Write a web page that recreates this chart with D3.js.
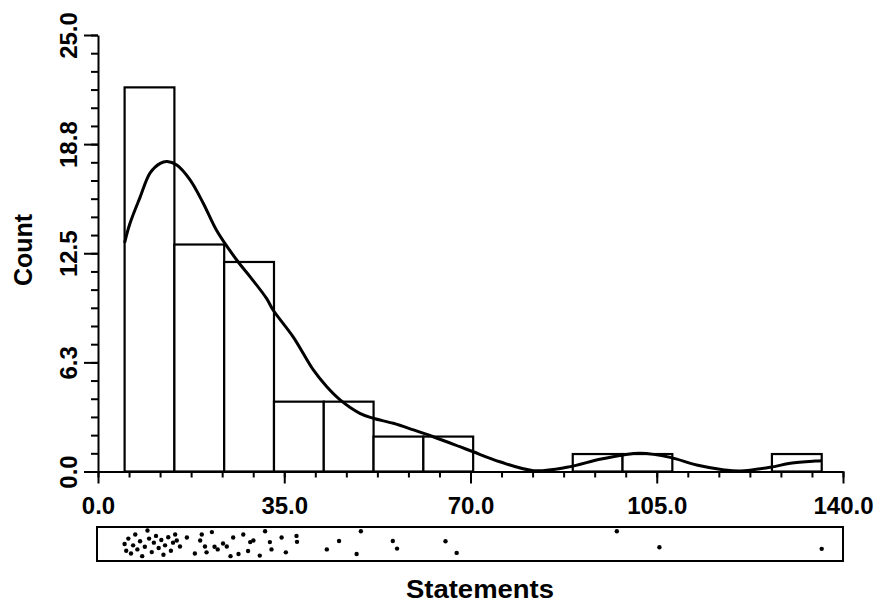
<!DOCTYPE html>
<html>
<head>
<meta charset="utf-8">
<script src="https://cdn.jsdelivr.net/npm/d3@7"></script>
<style>
  body { margin: 0; background: #fff; }
  svg { display: block; font-family: "Liberation Sans", Arial, sans-serif; }
</style>
</head>
<body>
<div id="container"></div>
<script>
const WIDTH = 875;
const HEIGHT = 606;

var statements = [
    5.0, 5.3, 5.7, 6.2, 6.6, 7.0, 7.4, 7.9, 8.3, 8.8, 9.3, 9.6, 10.1, 10.5, 10.9,
    11.4, 11.9, 12.3, 12.6, 13.2, 13.7, 14.1,
    14.5, 14.8, 15.4, 16.7, 18.2, 19.2, 19.5, 20.1, 20.4, 21.4, 21.9, 22.5, 23.5,
    24.2, 24.9, 25.4, 26.4, 27.3, 28.2, 28.6, 29.2, 30.4, 31.4, 32.3, 32.6,
    34.5, 35.3, 37.3, 37.4, 43.0, 45.3, 48.6, 49.4, 55.4, 56.2, 65.3, 67.4,
    97.5, 105.5, 136.0
];
// vertical jitter of each dot in the strip (0 = top, 1 = bottom)
var stripJitter = [
    0.5, 0.75, 0.3, 0.85, 0.55, 0.15, 0.7, 0.4, 0.95, 0.6, 0.0, 0.3, 0.8, 0.45, 0.2,
    0.65, 0.35, 0.9, 0.55, 0.25, 0.75, 0.45,
    0.15, 0.37, 0.59, 0.26, 0.85, 0.37, 0.15, 0.59, 0.81, 0.06, 0.6, 0.7, 0.48,
    0.59, 0.95, 0.26, 0.87, 0.15, 0.76, 0.43, 0.37, 0.93, 0.03, 0.43, 0.7,
    0.26, 0.81, 0.2, 0.42, 0.7, 0.39, 0.87, 0.03, 0.39, 0.67, 0.4, 0.83,
    0.03, 0.62, 0.68
];
var binCount = 14;

// density curve (scaled to counts)
var densityX = [5.0, 6.0, 7.9, 9.8, 11.7, 13.0, 14.8, 17.3, 19.8, 22.3, 26.1, 28.6, 31.7,
    32.9, 36.7, 40.5, 43.0, 45.5, 49.2, 51.7, 55.5, 59.3, 63.0, 68.0, 70.5, 75.5,
    81.8, 88.1, 94.3, 98.7, 101.9, 107.5, 112.5, 117.7, 120.7, 126.3, 130.1, 134.8, 136.0];
var densityY = [13.1, 14.2, 15.7, 17.1, 17.65, 17.75, 17.55, 16.7, 15.35, 13.8, 12.1, 11.15, 9.9,
    9.25, 7.7, 5.8, 4.85, 4.1, 3.33, 3.05, 2.76, 2.38, 1.99, 1.42, 1.13, 0.56,
    0.05, 0.24, 0.70, 0.95, 1.04, 0.81, 0.37, 0.09, 0.03, 0.24, 0.47, 0.60, 0.62];

var xTicks = [0, 35, 70, 105, 140];
var xTickLabels = ["0.0", "35.0", "70.0", "105.0", "140.0"];
var yTicks = [0, 6.25, 12.5, 18.75, 25];
var yTickLabels = ["0.0", "6.3", "12.5", "18.8", "25.0"];
var xTitle = "Statements";
var yTitle = "Count";

var XScale = d3.scaleLinear().domain([0, 140]).range([98, 843]);
var YScale = d3.scaleLinear().domain([0, 25]).range([471.5, 35]);
var JScale = d3.scaleLinear().domain([0, 1]).range([530.5, 557.5]);

var drawChart = function () {
    var svg = d3.select("#container").append("svg")
        .attr("width", WIDTH)
        .attr("height", HEIGHT);

    // histogram
    var lo = d3.min(statements), hi = d3.max(statements);
    var step = (hi - lo) / binCount;
    var bins = d3.bin()
        .domain([lo, hi])
        .thresholds(d3.range(1, binCount).map(function (i) { return lo + i * step; }))(statements);

    svg.append("g").selectAll("rect")
        .data(bins.filter(function (b) { return b.length > 0; }))
        .join("rect")
        .attr("x", function (b) { return XScale(b.x0); })
        .attr("y", function (b) { return YScale(b.length); })
        .attr("width", function (b) { return XScale(b.x1) - XScale(b.x0); })
        .attr("height", function (b) { return YScale(0) - YScale(b.length); })
        .attr("fill", "#fff")
        .attr("stroke", "#000")
        .attr("stroke-width", 2.2);

    // density curve
    var line = d3.line()
        .x(function (d) { return XScale(d[0]); })
        .y(function (d) { return YScale(d[1]); })
        .curve(d3.curveCatmullRom);
    svg.append("path")
        .datum(d3.zip(densityX, densityY))
        .attr("d", line)
        .attr("fill", "none")
        .attr("stroke", "#000")
        .attr("stroke-width", 3);

    // minor ticks
    svg.append("g")
        .attr("transform", "translate(0," + YScale(0) + ")")
        .call(d3.axisBottom(XScale).tickValues(d3.range(0, 140.01, 35 / 6)).tickSize(6).tickSizeOuter(0).tickFormat(""))
        .call(function (g) { g.select(".domain").remove(); });
    svg.append("g")
        .attr("transform", "translate(" + XScale(0) + ",0)")
        .call(d3.axisLeft(YScale).tickValues(d3.range(0, 25.01, 25 / 24)).tickSize(7).tickSizeOuter(0).tickFormat(""))
        .call(function (g) { g.select(".domain").remove(); });

    // x axis
    var xAxis = svg.append("g")
        .attr("transform", "translate(0," + YScale(0) + ")")
        .call(d3.axisBottom(XScale).tickValues(xTicks).tickSize(12).tickSizeOuter(0).tickPadding(13)
            .tickFormat(function (d, i) { return xTickLabels[i]; }));
    xAxis.selectAll("text").attr("font-size", 24).attr("font-weight", "bold").attr("fill", "#000");

    // y axis
    var yAxis = svg.append("g")
        .attr("transform", "translate(" + XScale(0) + ",0)")
        .call(d3.axisLeft(YScale).tickValues(yTicks).tickSize(14).tickSizeOuter(0)
            .tickFormat(function (d, i) { return yTickLabels[i]; }));
    yAxis.selectAll("text")
        .attr("x", null).attr("dy", null)
        .attr("transform", "translate(-21,0) rotate(-90)")
        .attr("text-anchor", "middle")
        .attr("font-size", 24).attr("font-weight", "bold").attr("fill", "#000");

    svg.selectAll(".domain, .tick line").attr("stroke", "#000").attr("stroke-width", 2);

    // dot strip
    svg.append("rect")
        .attr("x", XScale(0) - 1)
        .attr("y", 527)
        .attr("width", XScale(140) - XScale(0) + 1)
        .attr("height", 34)
        .attr("fill", "none")
        .attr("stroke", "#000")
        .attr("stroke-width", 2);
    svg.append("g").selectAll("circle")
        .data(d3.zip(statements, stripJitter))
        .join("circle")
        .attr("cx", function (d) { return XScale(d[0]); })
        .attr("cy", function (d) { return JScale(d[1]); })
        .attr("r", 2.2)
        .attr("fill", "#000");

    // titles
    svg.append("text")
        .attr("x", 480)
        .attr("y", 598)
        .attr("text-anchor", "middle")
        .attr("font-size", 25)
        .attr("font-weight", "bold")
        .attr("textLength", 148)
        .attr("lengthAdjust", "spacingAndGlyphs")
        .text(xTitle);
    svg.append("text")
        .attr("transform", "translate(32,250) rotate(-90)")
        .attr("text-anchor", "middle")
        .attr("font-size", 25)
        .attr("font-weight", "bold")
        .text(yTitle);
};

window.onload = drawChart;
</script>
</body>
</html>
